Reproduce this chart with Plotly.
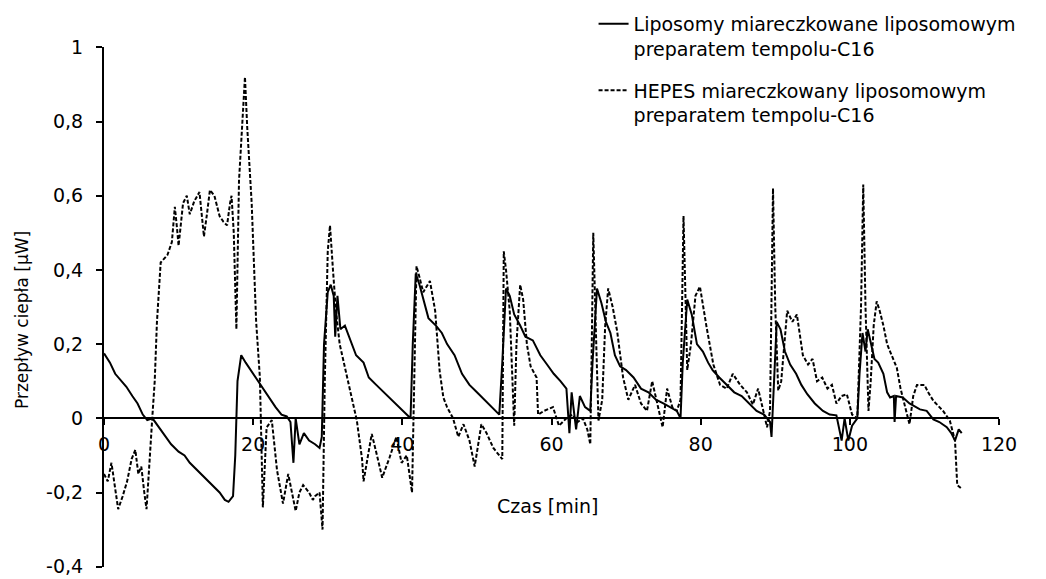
import plotly.graph_objects as go

# Liposomes titrated with the liposomal tempol-C16 preparation (solid line)
lip_t = [0, 0.8, 1.5, 2.3, 3.0, 3.8, 4.5, 5.2, 5.8, 6.5, 7.2, 8.0, 9.0, 10.0, 10.8,
         11.5, 12.5, 13.5, 14.5, 15.5, 16.2, 16.7, 17.3, 17.6, 17.9, 18.4, 19.0, 20.0,
         21.0, 22.0, 23.0, 23.8, 24.5, 25.0, 25.4, 25.7, 26.2, 26.8, 27.5, 28.3, 28.9,
         29.2, 29.5, 30.0, 30.4, 30.8, 31.0, 31.3, 31.7, 32.3, 33.0, 33.8, 34.8, 35.5,
         36.5, 37.5, 38.5, 39.5, 40.5, 41.1, 41.4, 41.8, 42.3, 42.8, 43.5, 44.5, 45.3,
         46.0, 47.0, 48.0, 49.0, 50.0, 51.0, 52.0, 53.0, 53.4, 53.9, 54.4, 55.0, 55.8,
         56.5, 57.5, 58.5, 59.4, 60.3, 61.2, 62.0, 62.4, 62.7, 63.3, 63.8, 64.5, 65.2,
         65.5, 66.1, 66.7, 67.3, 67.9, 68.5, 69.2, 70.0, 71.0, 72.0, 73.0, 74.0, 75.0,
         76.0, 76.8, 77.3, 77.6, 78.2, 78.8, 79.5, 80.3, 81.0, 81.6, 82.5, 83.5, 84.5,
         85.5, 86.5, 87.5, 88.5, 89.3, 89.5, 89.8, 90.2, 90.7, 91.3, 92.0, 92.8, 93.5,
         94.3, 95.3, 96.4, 97.3, 98.2, 98.9, 99.3, 99.8, 100.3, 101.0, 101.3, 101.7,
         102.1, 102.4, 102.9, 103.3, 103.8, 104.5, 105.0, 105.4, 105.9, 106.0, 106.2,
         107.1, 108.0, 109.4, 110.3, 111.2, 112.0, 113.0, 113.6, 114.1, 114.6, 115.0]
lip_q = [0.175, 0.15, 0.12, 0.10, 0.085, 0.06, 0.04, 0.01, -0.005, 0.0, -0.02, -0.04,
         -0.07, -0.09, -0.10, -0.12, -0.14, -0.16, -0.18, -0.20, -0.22, -0.225, -0.21,
         -0.10, 0.10, 0.17, 0.15, 0.12, 0.09, 0.06, 0.03, 0.01, 0.005, -0.01, -0.12,
         0.0, -0.07, -0.04, -0.06, -0.07, -0.08, -0.05, 0.20, 0.34, 0.36, 0.33, 0.22,
         0.33, 0.24, 0.25, 0.21, 0.17, 0.15, 0.11, 0.09, 0.07, 0.05, 0.03, 0.01, 0.0,
         0.20, 0.39, 0.36, 0.32, 0.27, 0.25, 0.23, 0.20, 0.17, 0.12, 0.09, 0.07, 0.05,
         0.03, 0.01, 0.15, 0.35, 0.33, 0.28, 0.25, 0.22, 0.21, 0.17, 0.145, 0.12, 0.10,
         0.08, -0.04, 0.07, -0.03, 0.06, 0.03, 0.02, 0.15, 0.35, 0.31, 0.26, 0.23, 0.17,
         0.14, 0.13, 0.11, 0.08, 0.07, 0.05, 0.04, 0.03, 0.02, 0.0, 0.15, 0.32, 0.28,
         0.20, 0.18, 0.15, 0.13, 0.11, 0.09, 0.07, 0.06, 0.04, 0.02, 0.01, -0.01, -0.05,
         0.10, 0.26, 0.24, 0.18, 0.145, 0.12, 0.09, 0.065, 0.04, 0.02, 0.01, 0.008,
         -0.06, 0.0, -0.06, -0.02, 0.0, 0.12, 0.23, 0.18, 0.24, 0.20, 0.16, 0.15, 0.12,
         0.07, 0.056, 0.06, -0.01, 0.06, 0.056, 0.04, 0.024, 0.02, -0.003, -0.01,
         -0.024, -0.04, -0.06, -0.03, -0.04]

# HEPES buffer titrated with the liposomal tempol-C16 preparation (dashed line)
hep_t = [0, 0.5, 1.0, 1.5, 1.9, 2.5, 3.1, 3.7, 4.2, 4.6, 5.0, 5.4, 5.7, 6.0, 6.3, 6.5,
         6.8, 7.1, 7.6, 8.0, 8.5, 9.1, 9.5, 9.8, 10.0, 10.6, 11.1, 11.5, 12.1, 12.8,
         13.1, 13.4, 13.8, 14.2, 14.8, 15.5, 16.0, 16.5, 16.9, 17.1, 17.4, 17.6, 17.75,
         18.1, 18.6, 18.9, 19.2, 19.8, 20.4, 20.9, 21.3, 21.8, 22.5, 23.2, 24.0, 24.7,
         25.4, 25.7, 26.2, 26.7, 27.5, 28.0, 28.3, 28.9, 29.3, 29.6, 30.0, 30.3, 30.7,
         31.1, 31.6, 32.6, 33.3, 33.9, 34.6, 34.8, 35.4, 35.9, 36.6, 37.3, 38.3, 39.2,
         39.9, 40.6, 41.3, 41.6, 41.9, 42.3, 42.8, 43.7, 44.4, 45.0, 45.5, 46.0, 46.8,
         47.5, 48.2, 49.0, 49.7, 50.6, 51.3, 52.2, 53.0, 53.4, 53.6, 53.9, 54.4, 54.8,
         55.0, 55.3, 55.8, 56.2, 56.7, 57.2, 58.0, 58.2, 59.0, 60.2, 61.0, 62.0, 62.8,
         63.5, 64.2, 64.8, 65.2, 65.4, 65.6, 66.0, 66.3, 66.8, 67.2, 67.6, 68.2, 68.8,
         69.2, 69.6, 70.3, 71.2, 72.0, 72.8, 73.5, 74.2, 74.9, 75.5, 76.2, 76.8, 77.3,
         77.7, 78.2, 78.7, 79.3, 79.9, 80.3, 80.8, 81.7, 82.6, 83.5, 84.3, 85.3, 86.2,
         87.0, 87.7, 88.4, 88.9, 89.3, 89.7, 90.0, 90.4, 90.8, 91.6, 92.3, 92.9, 93.7,
         94.4, 95.0, 95.6, 96.3, 97.0, 97.6, 98.2, 98.9, 99.6, 100.3, 101.0, 101.5,
         101.8, 102.1, 102.3, 102.5, 102.8, 103.2, 103.6, 104.0, 104.5, 105.0, 105.4,
         106.3, 106.8, 107.5, 108.0, 108.5, 109.0, 110.0, 110.5, 111.2, 112.5, 113.4,
         114.1, 114.4, 115.0]
hep_q = [-0.15, -0.17, -0.12, -0.19, -0.245, -0.21, -0.17, -0.11, -0.085, -0.15, -0.13,
         -0.20, -0.245, -0.15, -0.04, 0.01, 0.10, 0.26, 0.42, 0.43, 0.44, 0.475, 0.57,
         0.51, 0.465, 0.58, 0.60, 0.55, 0.585, 0.61, 0.54, 0.49, 0.55, 0.615, 0.60,
         0.545, 0.53, 0.52, 0.58, 0.60, 0.50, 0.30, 0.24, 0.64, 0.81, 0.92, 0.785, 0.58,
         0.26, 0.11, -0.24, -0.025, -0.005, -0.14, -0.23, -0.15, -0.22, -0.25, -0.20,
         -0.18, -0.20, -0.22, -0.21, -0.20, -0.30, 0.10, 0.45, 0.52, 0.40, 0.29, 0.20,
         0.11, 0.05, -0.006, -0.11, -0.17, -0.10, -0.042, -0.10, -0.16, -0.105, -0.05,
         -0.12, -0.10, -0.20, 0.10, 0.41, 0.38, 0.34, 0.37, 0.29, 0.128, 0.056, 0.03,
         0.0, -0.05, -0.016, -0.06, -0.13, -0.016, -0.04, -0.08, -0.10, -0.11, 0.45,
         0.40, 0.29, 0.10, -0.02, 0.20, 0.36, 0.32, 0.20, 0.14, 0.11, 0.01, 0.02, 0.03,
         -0.02, 0.0, 0.01, -0.01, 0.0, -0.03, -0.07, 0.20, 0.50, 0.20, -0.006, 0.05,
         0.25, 0.35, 0.30, 0.235, 0.17, 0.11, 0.05, 0.09, 0.04, 0.02, 0.10, 0.04, -0.024,
         0.08, 0.03, 0.02, 0.05, 0.545, 0.13, 0.20, 0.33, 0.355, 0.30, 0.245, 0.145,
         0.09, 0.08, 0.12, 0.09, 0.07, 0.037, 0.08, 0.02, -0.024, 0.02, 0.62, 0.30,
         0.075, 0.10, 0.29, 0.26, 0.28, 0.17, 0.145, 0.16, 0.10, 0.11, 0.08, 0.09, 0.04,
         0.06, 0.065, 0.01, 0.0, 0.30, 0.63, 0.30, 0.13, 0.02, 0.10, 0.25, 0.315, 0.29,
         0.25, 0.20, 0.18, 0.136, 0.08, 0.02, -0.016, 0.06, 0.09, 0.09, 0.07, 0.047,
         0.02, -0.006, -0.06, -0.18, -0.19]

x_ticks = [0, 20, 40, 60, 80, 100, 120]
y_ticks = [-0.4, -0.2, 0, 0.2, 0.4, 0.6, 0.8, 1.0]
y_tick_text = ["-0,4", "-0,2", "0", "0,2", "0,4", "0,6", "0,8", "1"]

name_lip = "Liposomy miareczkowane liposomowym<br>preparatem tempolu-C16"
name_hep = "HEPES miareczkowany liposomowym<br>preparatem tempolu-C16"

FONT = "DejaVu Sans"
Y_MIN, Y_MAX = -0.4, 1.0
PAD = 0.0008  # keeps the end ticks inside the axis range

fig = go.Figure()
fig.add_trace(go.Scatter(x=lip_t, y=lip_q, mode="lines", name=name_lip,
                         line=dict(color="black", width=2), legendgroup="a"))
fig.add_trace(go.Scatter(x=hep_t, y=hep_q, mode="lines", name=name_hep,
                         line=dict(color="black", width=2, dash="4px,2px"),
                         legendgroup="b"))

fig.update_layout(
    width=1046, height=579,
    margin=dict(l=104, r=47, t=47, b=12, autoexpand=False),
    paper_bgcolor="white", plot_bgcolor="white",
    font=dict(family=FONT, size=19, color="black"),
    showlegend=True,
    legend=dict(x=0.547, y=1.081, xanchor="left", yanchor="top",
                font=dict(family=FONT, size=19, color="black"),
                valign="top", traceorder="grouped", tracegroupgap=14,
                bgcolor="rgba(0,0,0,0)", itemwidth=30),
    xaxis=dict(range=[0, 120], tickvals=x_ticks, ticktext=[str(v) for v in x_ticks],
               anchor="free", position=(0 - Y_MIN) / (Y_MAX - Y_MIN),
               showline=True, linecolor="black", linewidth=2,
               ticks="outside", ticklen=6, tickwidth=1.5, tickcolor="black",
               ticklabelstandoff=3, showgrid=False, zeroline=False,
               ticklabeloverflow="allow",
               tickfont=dict(family=FONT, size=19)),
    yaxis=dict(range=[Y_MIN - PAD, Y_MAX + PAD], tickvals=y_ticks, ticktext=y_tick_text,
               showline=True, linecolor="black", linewidth=2,
               ticks="outside", ticklen=6, tickwidth=1.5, tickcolor="black",
               ticklabelstandoff=9, showgrid=False, zeroline=False,
               ticklabeloverflow="allow",
               tickfont=dict(family=FONT, size=19)),
    annotations=[
        dict(text="Czas [min]", xref="paper", yref="paper", x=0.495, y=0.117,
             xanchor="center", yanchor="middle", showarrow=False,
             font=dict(family=FONT, size=19)),
        dict(text="Przepływ ciepła [μW]", xref="paper", yref="paper",
             x=-0.0916, y=0.475, xanchor="center", yanchor="middle",
             textangle=-90, showarrow=False, font=dict(family=FONT, size=17)),
    ],
)

fig.write_html("out.html")
